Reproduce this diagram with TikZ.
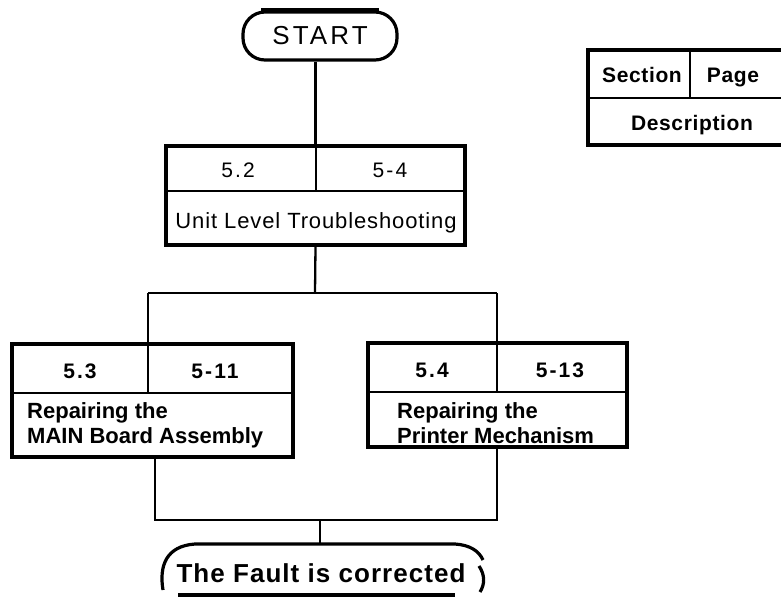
\documentclass[tikz,border=0pt]{standalone}
\usepackage{fontspec}
\setmainfont{Liberation Sans}
\newfontfamily\startfont[LetterSpace=12]{Liberation Sans}
\newfontfamily\numfont[LetterSpace=10]{Liberation Sans}
\newfontfamily\txtfont[LetterSpace=4]{Liberation Sans}
\newfontfamily\legfont[LetterSpace=3]{Liberation Sans}
\begin{document}
\begin{tikzpicture}[x=1pt,y=-1pt,
  frame/.style={draw, line width=3.2pt},
  conn/.style={line width=2.3pt},
  divl/.style={line width=2pt},
  num/.style={inner sep=0pt, anchor=base, font=\fontsize{21}{23}\selectfont\numfont},
  bnum/.style={inner sep=0pt, anchor=base, font=\fontsize{21}{23}\selectfont\numfont\bfseries},
  desc/.style={inner sep=0pt, align=left, font=\fontsize{22}{25}\selectfont\bfseries},
  leg/.style={inner sep=0pt, anchor=base, font=\fontsize{21}{23}\selectfont\legfont\bfseries}]
\useasboundingbox (0,0) rectangle (781,597);

% START terminal
\node[frame, rounded corners=22pt, minimum width=154pt, minimum height=48pt, inner sep=0pt,
      font=\fontsize{26}{28}\selectfont\startfont] (start) at (320,36) {START};
\draw[line width=4.5pt] ([xshift=20pt]start.north west) -- ([xshift=-20pt]start.north east);

% Legend
\draw[frame] (783,50) -- (588,50) -- (588,145) -- (783,145);
\coordinate (lgl) at (588,98);
\coordinate (lgr) at (781,98);
\coordinate (lgt) at (690,50);
\draw[divl] (lgl) -- (lgr);
\draw[divl] (lgt) -- (lgt |- lgl);
\node[leg] (lsec) at (642,82) {Section};
\node[leg] (lpage) at (733,82) {Page};
\node[leg] (ldesc) at (692,130) {Description};

% Unit level box
\node[frame, minimum width=299pt, minimum height=99pt] (unit) at (315.5,195.5) {};
\coordinate (umidl) at (166,191);
\coordinate (umidr) at (465,191);
\draw[divl] (umidl) -- (umidr);
\draw[divl] (unit.north) -- (unit.north |- umidl);
\node[num] (u1) at (238,177) {5.2};
\node[num] (u2) at (390,177) {5-4};
\node[inner sep=0pt, anchor=base, font=\fontsize{22}{25}\selectfont\txtfont] (u3) at (316,228) {Unit Level Troubleshooting};

% Left box
\node[frame, minimum width=281pt, minimum height=113pt] (lbox) at (152.5,400.5) {};
\coordinate (lmidl) at (12,393);
\coordinate (lmidr) at (293,393);
\coordinate (ldiv) at (148,344);
\draw[divl] (lmidl) -- (lmidr);
\draw[divl] (ldiv) -- (ldiv |- lmidl);
\node[bnum] (l1) at (80,378) {5.3};
\node[bnum] (l2) at (215,378) {5-11};
\node[desc, anchor=north west] (l3) at (27,402) {Repairing the\\MAIN Board Assembly};

% Right box
\node[frame, minimum width=259pt, minimum height=104pt] (rbox) at (497.5,395) {};
\coordinate (rmidl) at (368,392);
\coordinate (rmidr) at (627,392);
\coordinate (rdiv) at (497,343);
\draw[divl] (rmidl) -- (rmidr);
\draw[divl] (rdiv) -- (rdiv |- rmidl);
\node[bnum] (r1) at (432,377) {5.4};
\node[bnum] (r2) at (560,377) {5-13};
\node[desc, anchor=north west] (r3) at (397,402) {Repairing the\\Printer Mechanism};

% Connectors
\coordinate (split) at (315,293);
\draw[conn] (start.south -| unit.north) -- (unit.north);
\draw[conn] (unit.south) -- (split);
\draw[conn] (ldiv |- split) -- (rdiv |- split);
\draw[conn] (ldiv |- split) -- (ldiv);
\draw[conn] (rdiv |- split) -- (rdiv);
\coordinate (join) at (320,520);
\coordinate (lout) at (155,457);
\draw[conn] (lout) -- (lout |- join) -- (rdiv |- join) -- (rbox.south -| rdiv);
\coordinate (ftop) at (320,545);
\draw[conn] (join) -- (ftop);

% Fault terminal
\node[inner sep=0pt, anchor=base, font=\fontsize{26}{28}\selectfont\txtfont\bfseries] (fault) at (321,582) {The Fault is corrected};
\draw[frame] (163,590) .. controls (159,566) and (166,546) .. (195,544) -- (455,544)
  .. controls (470,545) and (479,551) .. (483,560);
\draw[frame] (479,566) .. controls (485,575) and (485,584) .. (480,592);
\draw[frame] (178,595) -- (455,595);
\end{tikzpicture}
\end{document}
